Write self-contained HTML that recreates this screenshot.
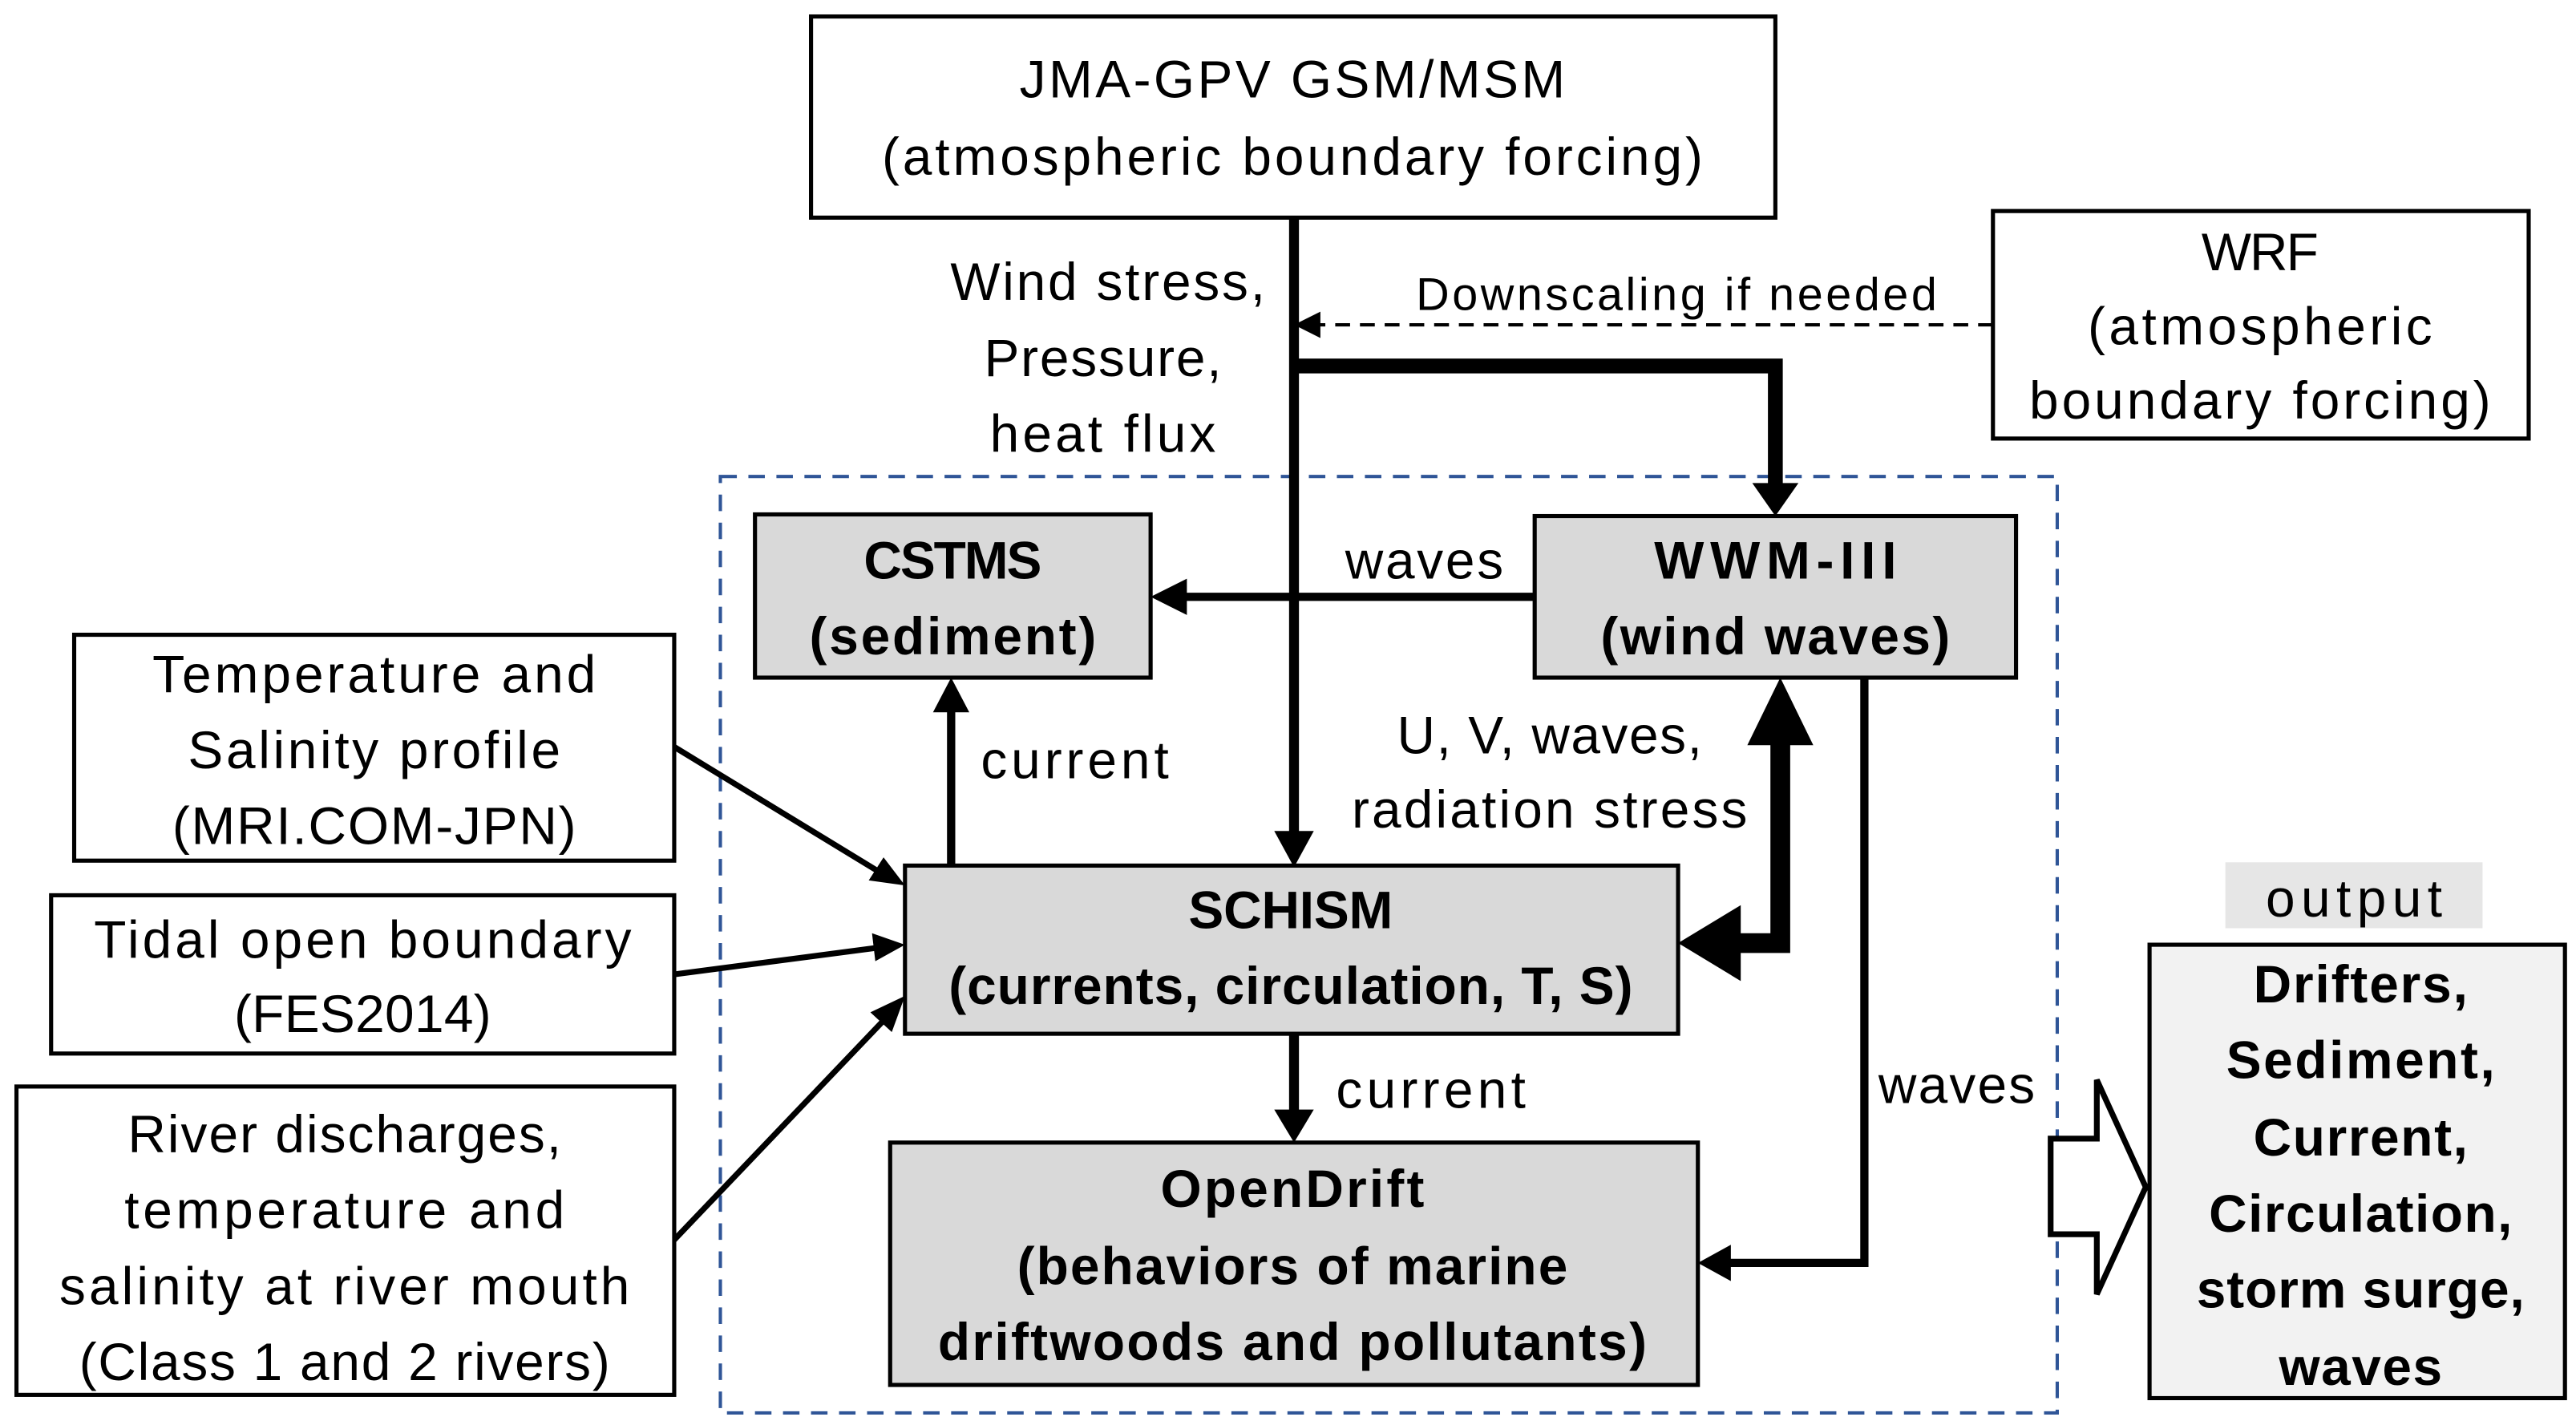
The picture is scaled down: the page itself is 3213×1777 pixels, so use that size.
<!DOCTYPE html>
<html><head><meta charset="utf-8"><style>html,body{margin:0;padding:0;background:#fff}svg{display:block}</style></head>
<body>
<svg width="3213" height="1777" viewBox="0 0 1562.7 864.3" preserveAspectRatio="none" xmlns="http://www.w3.org/2000/svg" font-family="'Liberation Sans', sans-serif" font-size="32" text-anchor="middle" lengthAdjust="spacingAndGlyphs">
<rect width="1562.7" height="864.3" fill="#fff"/>
<!-- dashed container -->
<rect x="437" y="289" width="811" height="568" fill="none" stroke="#2f5597" stroke-width="2" stroke-dasharray="10,7"/>
<!-- boxes -->
<rect x="492" y="10" width="585" height="122" fill="#fff" stroke="#000" stroke-width="2.5"/>
<rect x="1209" y="128" width="325" height="138" fill="#fff" stroke="#000" stroke-width="2.5"/>
<rect x="458" y="312" width="240" height="99" fill="#d9d9d9" stroke="#000" stroke-width="2.5"/>
<rect x="931" y="313" width="292" height="98" fill="#d9d9d9" stroke="#000" stroke-width="2.5"/>
<rect x="549" y="525" width="469" height="102" fill="#d9d9d9" stroke="#000" stroke-width="2.5"/>
<rect x="540" y="693" width="490" height="147" fill="#d9d9d9" stroke="#000" stroke-width="2.5"/>
<rect x="45" y="385" width="364" height="137" fill="#fff" stroke="#000" stroke-width="2.5"/>
<rect x="31" y="543" width="378" height="96" fill="#fff" stroke="#000" stroke-width="2.5"/>
<rect x="10" y="659" width="399" height="187" fill="#fff" stroke="#000" stroke-width="2.5"/>
<rect x="1350" y="523" width="156" height="40" fill="#e6e6e6"/>
<rect x="1304" y="573" width="252" height="275" fill="#f2f2f2" stroke="#000" stroke-width="2.5"/>

<!-- connectors -->
<g stroke="#000" fill="none" stroke-linejoin="miter">
  <line x1="785" y1="132" x2="785" y2="505" stroke-width="6"/>
  <line x1="1209" y1="197" x2="800" y2="197" stroke-width="2" stroke-dasharray="9,6"/>
  <polyline points="785,222 1077,222 1077,295" stroke-width="9"/>
  <line x1="931" y1="362" x2="718" y2="362" stroke-width="5"/>
  <line x1="577" y1="525" x2="577" y2="430" stroke-width="5"/>
  <polyline points="1080,440 1080,572 1045,572" stroke-width="12"/>
  <line x1="785" y1="627" x2="785" y2="675" stroke-width="6"/>
  <polyline points="1131,411 1131,766 1048,766" stroke-width="5"/>
  <line x1="409" y1="453" x2="532" y2="528" stroke-width="3.5"/>
  <line x1="409" y1="591" x2="531" y2="575" stroke-width="3.5"/>
  <line x1="409" y1="752" x2="535" y2="620" stroke-width="3.5"/>
</g>
<g fill="#000">
  <polygon points="773,504 797,504 785,526"/>
  <polygon points="785,197 801,189 801,205"/>
  <polygon points="1063,293 1091,293 1077,313"/>
  <polygon points="698,362 720,351 720,373"/>
  <polygon points="577,411 566,432 588,432"/>
  <polygon points="1080,411 1060,452 1100,452"/>
  <polygon points="1018,572 1056,549 1056,595"/>
  <polygon points="773,673 797,673 785,693"/>
  <polygon points="1030,766 1050,755 1050,777"/>
  <polygon points="549,537 527,534 536,520"/>
  <polygon points="549,573 529,566 531,583"/>
  <polygon points="549,604 541,626 528,614"/>
</g>
<!-- hollow output arrow -->
<polygon points="1244,690.6 1272,690.6 1272,655 1301.7,720 1272,785 1272,748.6 1244,748.6" fill="#fff" stroke="#000" stroke-width="3.5"/>

<!-- text -->
<g fill="#000">
<text x="784" y="59" textLength="331">JMA-GPV GSM/MSM</text>
<text x="784" y="106" textLength="498">(atmospheric boundary forcing)</text>
<text x="1371" y="164" textLength="71">WRF</text>
<text x="1371" y="209" textLength="209">(atmospheric</text>
<text x="1371" y="254" textLength="280">boundary forcing)</text>
<text x="672" y="182" textLength="191">Wind stress,</text>
<text x="669" y="228" textLength="144">Pressure,</text>
<text x="669" y="274" textLength="137">heat flux</text>
<text x="1017" y="188" font-size="28" textLength="316">Downscaling if needed</text>
<text x="864" y="351" textLength="96">waves</text>
<text x="652" y="472" textLength="114">current</text>
<text x="940" y="457" textLength="185">U, V, waves,</text>
<text x="940" y="502" textLength="240">radiation stress</text>
<text x="868" y="672" textLength="115">current</text>
<text x="1187" y="669" textLength="95">waves</text>
<text x="227" y="420" textLength="269">Temperature and</text>
<text x="227" y="466" textLength="226">Salinity profile</text>
<text x="227" y="512" textLength="245">(MRI.COM-JPN)</text>
<text x="220" y="581" textLength="326">Tidal open boundary</text>
<text x="220" y="626" textLength="156">(FES2014)</text>
<text x="209" y="699" textLength="263">River discharges,</text>
<text x="209" y="745" textLength="267">temperature and</text>
<text x="209" y="791" textLength="346">salinity at river mouth</text>
<text x="209" y="837" textLength="322">(Class 1 and 2 rivers)</text>
<text x="1428" y="556" textLength="107">output</text>
<g font-weight="bold">
<text x="578" y="351" textLength="108">CSTMS</text>
<text x="578" y="397" textLength="174">(sediment)</text>
<text x="1077" y="351" textLength="147">WWM-III</text>
<text x="1077" y="397" textLength="212">(wind waves)</text>
<text x="783" y="563" textLength="124">SCHISM</text>
<text x="783" y="609" textLength="415">(currents, circulation, T, S)</text>
<text x="784" y="732" textLength="160">OpenDrift</text>
<text x="784" y="779" textLength="334">(behaviors of marine</text>
<text x="784" y="825" textLength="430">driftwoods and pollutants)</text>
<text x="1432" y="608" textLength="130">Drifters,</text>
<text x="1432" y="654" textLength="163">Sediment,</text>
<text x="1432" y="701" textLength="130">Current,</text>
<text x="1432" y="747" textLength="184">Circulation,</text>
<text x="1432" y="793" textLength="199">storm surge,</text>
<text x="1432" y="840" textLength="99">waves</text>
</g>
</g>
</svg>
</body></html>
